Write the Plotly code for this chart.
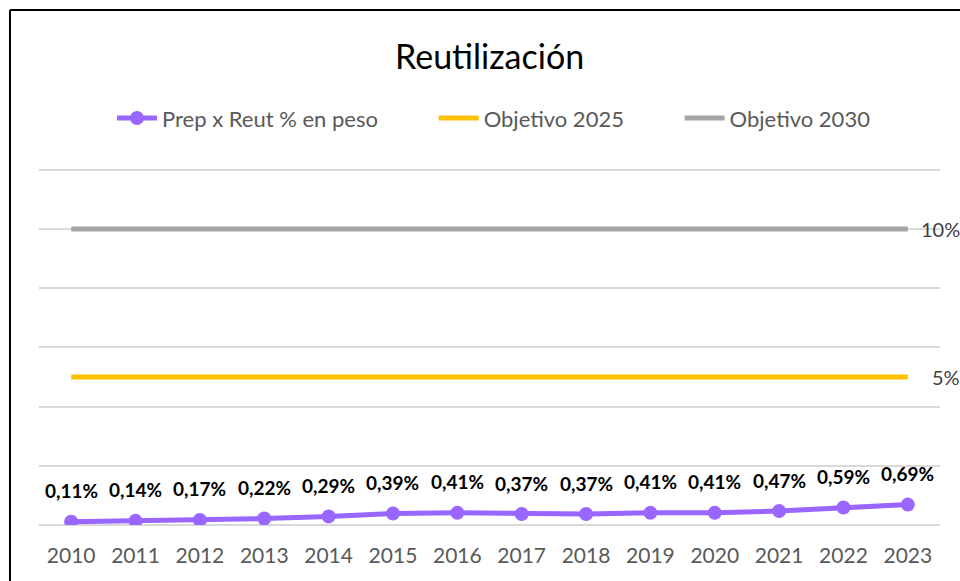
import plotly.graph_objects as go

years = [str(y) for y in range(2010, 2024)]
reut = [0.11, 0.14, 0.17, 0.22, 0.29, 0.39, 0.41, 0.37, 0.37, 0.41, 0.41, 0.47, 0.59, 0.69]
obj2025 = [5] * len(years)
obj2030 = [10] * len(years)
reut_labels = [f"{v:.2f}%".replace(".", ",") for v in reut]

FONT = "Lato"
PURPLE = "#9966FF"
YELLOW = "#FFC000"
GRAY = "#A5A5A5"
NB = "\u00a0"

fig = go.Figure()
fig.add_trace(go.Scatter(
    x=years, y=reut, name="Prep x Reut % en peso" + NB * 9, mode="lines+markers",
    line=dict(color=PURPLE, width=5), marker=dict(color=PURPLE, size=14),
))
fig.add_trace(go.Scatter(
    x=years, y=obj2025, name="Objetivo 2025" + NB * 9, mode="lines",
    line=dict(color=YELLOW, width=5),
))
fig.add_trace(go.Scatter(
    x=years, y=obj2030, name="Objetivo 2030", mode="lines",
    line=dict(color=GRAY, width=5),
))

# data labels (category axis: annotation x is the category index)
for i, (y, t) in enumerate(zip(reut, reut_labels)):
    fig.add_annotation(x=i, y=y, text=f"<b>{t}</b>", showarrow=False, yshift=31,
                       font=dict(family=FONT, size=19, color="#000000"))

last = len(years) - 1
fig.add_annotation(x=last, y=obj2030[-1], text="10%", showarrow=False,
                   xanchor="left", xshift=11, font=dict(family=FONT, size=20, color="#404040"))
fig.add_annotation(x=last, y=obj2025[-1], text="5%", showarrow=False,
                   xanchor="left", xshift=22, font=dict(family=FONT, size=20, color="#404040"))

# outer chart border (top and left edges visible)
fig.add_shape(type="line", xref="paper", yref="paper", x0=-0.0322, x1=1.1, y0=1.4266, y1=1.4266,
              line=dict(color="#000000", width=2))
fig.add_shape(type="line", xref="paper", yref="paper", x0=-0.0322, x1=-0.0322, y0=-0.2, y1=1.4266,
              line=dict(color="#000000", width=2))

fig.update_layout(
    width=960, height=581,
    margin=dict(l=39, r=20, t=164, b=56),
    paper_bgcolor="white", plot_bgcolor="white",
    title=dict(text="Reutilización", x=0.51, xanchor="center", y=1 - 57 / 581, yanchor="middle",
               yref="container", font=dict(family=FONT, size=34, color="#000000")),
    legend=dict(orientation="h", x=0.505, xanchor="center", y=1.127, yanchor="middle",
                font=dict(family=FONT, size=22, color="#595959"), itemwidth=40),
    xaxis=dict(type="category", range=[-0.5, 13.5], showgrid=False, showline=False, ticks="",
               ticklabelstandoff=16,
               tickfont=dict(family=FONT, size=21, color="#595959")),
    yaxis=dict(range=[0, 12.2], tickvals=[0, 2, 4, 6, 8, 10, 12], showticklabels=False,
               showgrid=True, gridcolor="#D9D9D9", gridwidth=1.5, zeroline=True,
               zerolinecolor="#D9D9D9", zerolinewidth=1.5),
    showlegend=True,
)

fig.write_html("out.html", config={"displayModeBar": False},
               post_script="document.body.style.margin='0';document.body.style.overflow='hidden';")
